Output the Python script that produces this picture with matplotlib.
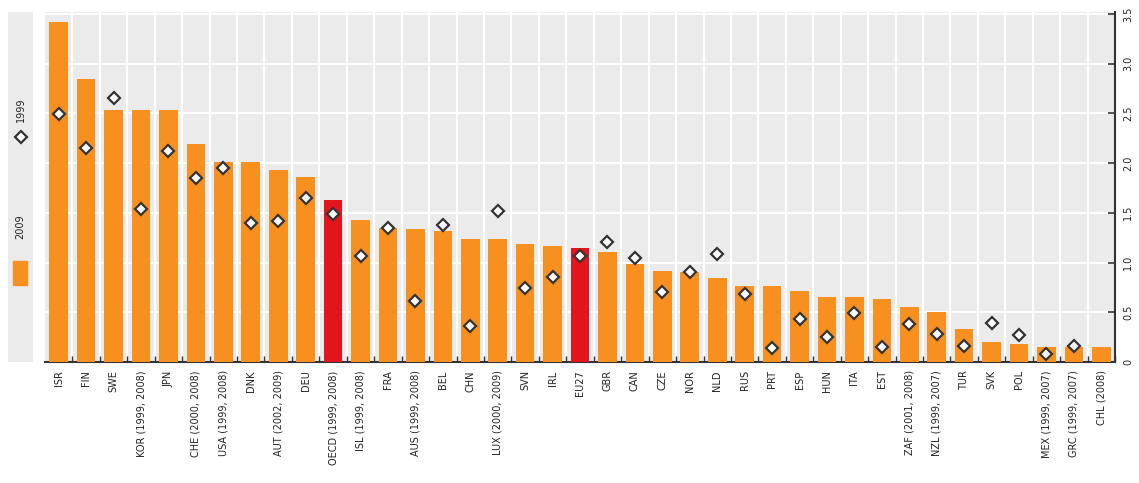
import matplotlib
matplotlib.use("Agg")
import matplotlib.pyplot as plt
import numpy as np
from matplotlib.patches import Rectangle

countries = [
    "ISR", "FIN", "SWE", "KOR (1999, 2008)", "JPN", "CHE (2000, 2008)",
    "USA (1999, 2008)", "DNK", "AUT (2002, 2009)", "DEU", "OECD (1999, 2008)",
    "ISL (1999, 2008)", "FRA", "AUS (1999, 2008)", "BEL", "CHN",
    "LUX (2000, 2009)", "SVN", "IRL", "EU27", "GBR", "CAN", "CZE", "NOR",
    "NLD", "RUS", "PRT", "ESP", "HUN", "ITA", "EST", "ZAF (2001, 2008)",
    "NZL (1999, 2007)", "TUR", "SVK", "POL", "MEX (1999, 2007)",
    "GRC (1999, 2007)", "CHL (2008)",
]
v2009 = [
    3.42, 2.84, 2.53, 2.53, 2.53, 2.19, 2.01, 2.01, 1.93, 1.86, 1.63,
    1.43, 1.35, 1.34, 1.32, 1.24, 1.24, 1.19, 1.17, 1.15, 1.11, 0.99,
    0.91, 0.90, 0.84, 0.76, 0.76, 0.71, 0.65, 0.65, 0.63, 0.55, 0.50,
    0.33, 0.20, 0.18, 0.15, 0.15, 0.15,
]
v1999 = [
    2.49, 2.15, 2.65, 1.54, 2.12, 1.85, 1.95, 1.40, 1.42, 1.65, 1.49,
    1.07, 1.35, 0.61, 1.38, 0.36, 1.52, 0.74, 0.85, 1.07, 1.21, 1.05,
    0.70, 0.90, 1.09, 0.68, 0.14, 0.43, 0.25, 0.49, 0.15, 0.38, 0.28,
    0.16, 0.39, 0.27, 0.08, 0.16, None,
]
highlight = {"OECD (1999, 2008)", "EU27"}

ORANGE = "#f7901e"
RED = "#e2141c"
BG = "#ebebeb"
TXT = "#222222"

fig = plt.figure(figsize=(11.39, 4.83), dpi=100)
ax = fig.add_axes([0.0395, 0.2505, 0.9395, 0.725])
ax.set_facecolor(BG)

x = np.arange(len(countries))
colors = [RED if c in highlight else ORANGE for c in countries]
ax.bar(x, v2009, width=0.68, color=colors, zorder=3)

# 1999 diamonds (CHL has none)
xd = [i for i, v in enumerate(v1999) if v is not None]
yd = [v for v in v1999 if v is not None]
ax.plot(xd, yd, "D", ms=6.5, mfc="white", mec="#333333", mew=1.6, ls="none", zorder=4)

ax.set_xlim(-0.5, len(countries) - 0.5)
ax.set_ylim(0, 3.52)

ax.set_yticks(np.arange(0, 3.51, 0.5))
ax.set_yticklabels(["0", "0.5", "1.0", "1.5", "2.0", "2.5", "3.0", "3.5"],
                   rotation=90, va="center", fontsize=7, color=TXT)
ax.yaxis.tick_right()
ax.set_xticks(x + 0.5, minor=True)
ax.set_xticks(x)
ax.set_xticklabels(countries, rotation=90, fontsize=7, color=TXT)
ax.tick_params(axis="x", which="major", length=0, pad=6)
ax.tick_params(axis="x", which="minor", direction="in", length=4, color="#333333", width=1)
ax.tick_params(axis="y", direction="in", length=5, color="#333333", width=1.2, pad=6)
ax.grid(axis="y", color="white", linewidth=1.5, zorder=1)
ax.grid(axis="x", which="minor", color="white", linewidth=1.5, zorder=1)
ax.set_axisbelow(True)

for s in ["top", "left"]:
    ax.spines[s].set_visible(False)
for s in ["bottom", "right"]:
    ax.spines[s].set_color("#333333")
    ax.spines[s].set_linewidth(1.5)

# vertical legend strip on the left
lax = fig.add_axes([8 / 1139, 1 - 362 / 483, 25 / 1139, 350 / 483])
lax.set_xlim(0, 1)
lax.set_ylim(0, 350)
lax.set_facecolor(BG)
lax.set_xticks([])
lax.set_yticks([])
for s in lax.spines.values():
    s.set_visible(False)
lax.add_patch(Rectangle((0.2, 77), 0.55, 24, color=ORANGE))
lax.text(0.5, 135, "2009", rotation=90, ha="center", va="center", fontsize=7, color=TXT)
lax.plot([0.5], [225], "D", ms=6.5, mfc="white", mec="#333333", mew=1.6)
lax.text(0.5, 240, "1999", rotation=90, ha="center", va="bottom", fontsize=7, color=TXT)

fig.savefig("out.png", dpi=100)
